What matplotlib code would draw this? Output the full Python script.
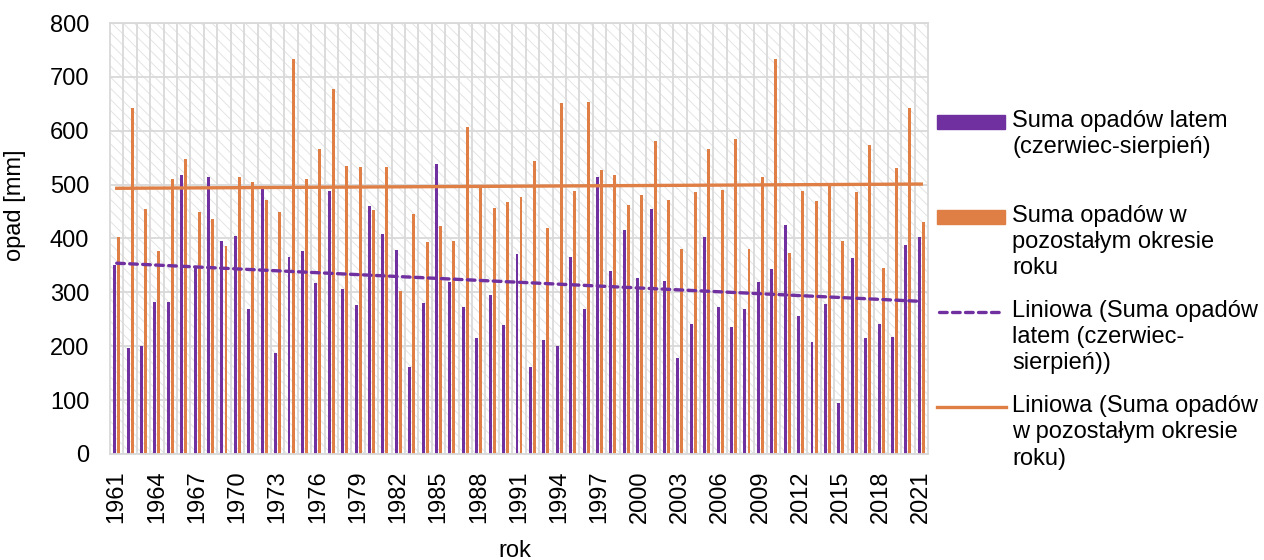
import numpy as np
import matplotlib.pyplot as plt
from matplotlib.patches import Rectangle
from matplotlib.lines import Line2D

plt.rcParams['font.family'] = ['Liberation Sans', 'DejaVu Sans']
plt.rcParams['hatch.linewidth'] = 0.7

# data
years = list(range(1961, 2022))
summer = [350, 197, 201, 282, 283, 517, 347, 515, 396, 405,
          269, 491, 187, 365, 376, 317, 488, 307, 277, 460,
          409, 379, 161, 281, 538, 319, 273, 215, 295, 239,
          372, 161, 211, 201, 365, 270, 514, 339, 415, 326,
          455, 321, 179, 242, 403, 272, 236, 270, 319, 344,
          425, 256, 208, 278, 94, 363, 215, 242, 218, 388, 403]
rest = [402, 642, 454, 377, 510, 548, 449, 437, 387, 515,
        505, 471, 450, 734, 510, 566, 677, 535, 533, 453,
        533, 302, 445, 394, 423, 396, 607, 495, 457, 468,
        477, 544, 419, 652, 489, 654, 528, 517, 463, 480,
        581, 472, 380, 486, 567, 490, 584, 380, 515, 734,
        374, 489, 470, 498, 396, 487, 574, 346, 531, 642, 430]

labels = ['Suma opadów latem\n(czerwiec-sierpień)',
          'Suma opadów w\npozostałym okresie\nroku',
          'Liniowa (Suma opadów\nlatem (czerwiec-\nsierpień))',
          'Liniowa (Suma opadów\nw pozostałym okresie\nroku)']

purple = '#7030A0'
orange = '#DF7F45'
grid_c = '#d9d9d9'

W, H = 1264, 560
fig = plt.figure(figsize=(W / 100, H / 100), dpi=100)
ax = fig.add_axes([110 / W, 1 - 454 / H, 818 / W, 431 / H])

x = np.arange(len(years))
ax.set_xlim(-0.5, len(years) - 0.5)
ax.set_ylim(0, 800)

# hatched plot area
bg = Rectangle((0, 0), 1, 1, transform=ax.transAxes, facecolor='white',
               edgecolor='#e4e4e4', hatch='\\\\\\', linewidth=0, zorder=0.1)
ax.add_patch(bg)

ax.bar(x - 0.15, summer, width=0.22, color=purple, zorder=2)
ax.bar(x + 0.15, rest, width=0.22, color=orange, zorder=2)

# linear trends
p1 = np.polyfit(x, summer, 1)
p2 = np.polyfit(x, rest, 1)
ax.plot(x, np.polyval(p1, x), color=purple, lw=2.4, ls=(0, (2.3, 1.6)),
        dash_capstyle='round', zorder=3)
ax.plot(x, np.polyval(p2, x), color=orange, lw=2.4, zorder=3)

ax.set_yticks(range(0, 801, 100))
ax.set_xticks(x[::3])
ax.set_xticklabels([str(y) for y in years[::3]], rotation=90)
ax.set_xticks(x[:-1] + 0.5, minor=True)
ax.tick_params(axis='both', which='both', length=0, labelsize=17)
ax.tick_params(axis='y', pad=15)
ax.tick_params(axis='x', pad=12)
ax.grid(axis='y', which='major', color=grid_c, lw=1.3)
ax.grid(axis='x', which='minor', color=grid_c, lw=1.3)
ax.set_axisbelow(True)
for s in ax.spines.values():
    s.set_color(grid_c)
    s.set_linewidth(1.3)

ax.set_xlabel('rok', fontsize=17)
ax.xaxis.set_label_coords(0.495, -0.2)
ax.set_ylabel('opad [mm]', fontsize=17)
ax.yaxis.set_label_coords(-0.103, 0.578)

# legend on the right, handles level with the first text line
def fx(px):
    return px / W

def fy(py):
    return 1 - py / H

for k, lab in enumerate(labels):
    yc = 122 + 95 * k
    if k == 0 or k == 1:
        c = purple if k == 0 else orange
        fig.add_artist(Rectangle((fx(937), fy(yc + 6.5)), fx(68), 13 / H,
                                 transform=fig.transFigure, color=c))
    elif k == 2:
        fig.add_artist(Line2D([fx(939), fx(1004)], [fy(yc), fy(yc)], color=purple,
                              lw=2.4, ls=(0, (2.3, 1.6)), dash_capstyle='round',
                              transform=fig.transFigure))
    else:
        fig.add_artist(Line2D([fx(937), fx(1006)], [fy(yc), fy(yc)], color=orange,
                              lw=2.4, transform=fig.transFigure))
    fig.text(fx(1012), fy(yc - 12), lab, fontsize=17, va='top', ha='left',
             linespacing=1.25)

fig.savefig('out.png', dpi=100)
